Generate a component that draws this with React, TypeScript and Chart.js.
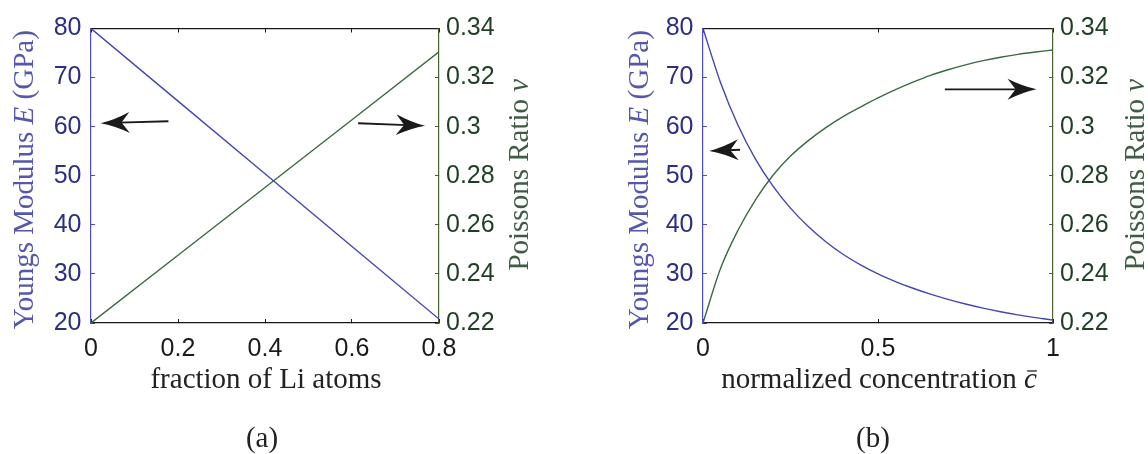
import React, { useEffect, useRef } from "react";
import { Chart, registerables } from "chart.js";

Chart.register(...registerables);

// ---- Panel (a): properties vs. fraction of Li atoms ----
const liFraction = [0, 0.2, 0.4, 0.6, 0.8];
const modulusA = [80, 65.2, 50.4, 35.6, 20.8];
const poissonA = [0.22, 0.2476, 0.2752, 0.3028, 0.3305];

// ---- Panel (b): properties vs. normalized concentration ----
const concentration = [
  0, 0.05, 0.1, 0.15, 0.2, 0.25, 0.3, 0.35, 0.4, 0.45, 0.5,
  0.55, 0.6, 0.65, 0.7, 0.75, 0.8, 0.85, 0.9, 0.95, 1,
];
const modulusB = [
  80, 69, 60.3, 53.4, 47.9, 43.4, 39.7, 36.6, 34.0, 31.85, 30.0,
  28.45, 27.08, 25.87, 24.8, 23.86, 23.03, 22.3, 21.66, 21.09, 20.6,
];
const poissonB = [
  0.22, 0.2422, 0.2578, 0.2702, 0.2802, 0.288, 0.2942, 0.2995, 0.3041, 0.308, 0.3117,
  0.3151, 0.31815, 0.3209, 0.3232, 0.3252, 0.3269, 0.3283, 0.32945, 0.3304, 0.33125,
];

// ---- Tick values ----
const xTicksA = [0, 0.2, 0.4, 0.6, 0.8];
const xTicksB = [0, 0.5, 1];
const modulusTicks = [20, 30, 40, 50, 60, 70, 80];
const poissonTicks = [0.22, 0.24, 0.26, 0.28, 0.3, 0.32, 0.34];

// ---- Arrows pointing to the axis each curve belongs to: [x, E] tail -> tip ----
const arrowsA = [
  { from: [0.178, 61.1], to: [0.022, 60.7] },
  { from: [0.614, 60.7], to: [0.768, 60.2] },
];
const arrowsB = [
  { from: [0.106, 55.3], to: [0.018, 55.05] },
  { from: [0.691, 67.6], to: [0.953, 67.6] },
];

const W = 574;
const H = 454;
const PLOT_TOP = 23;
const PLOT_BOTTOM = 323;
const TICK_IN = -4;

const SANS = '"Liberation Sans", Arial, Helvetica, sans-serif';
const SERIF = '"Liberation Serif", "Times New Roman", serif';
const TITLE_SIZE = 29;

const COLOR_E = "#4446b4";
const COLOR_NU = "#3a6a42";
const E_TICK_TEXT = "#2b2e84";
const NU_TICK_TEXT = "#1f3f25";
const E_TITLE = "#5457ad";
const NU_TITLE = "#3f5c44";
const E_BORDER = "#4e4ec4";
const NU_BORDER = "#4d5e2f";
const INK = "#1a1a1a";

type Run = { text: string; italic?: boolean; bar?: boolean };

type PanelSpec = {
  xs: number[];
  modulus: number[];
  poisson: number[];
  xTicks: number[];
  xMax: number;
  arrows: { from: number[]; to: number[] }[];
  xTitle: Run[];
  caption: string;
  plotLeft: number;
  plotRight: number;
  leftGap: number;
  rightGap: number;
  captionShift: number;
  smooth: boolean;
};

function drawRuns(
  ctx: CanvasRenderingContext2D,
  runs: Run[],
  x: number,
  y: number,
  angle: number,
  size: number,
  color: string
) {
  ctx.save();
  ctx.translate(x, y);
  ctx.rotate(angle);
  ctx.fillStyle = color;
  ctx.strokeStyle = color;
  ctx.textBaseline = "alphabetic";
  ctx.textAlign = "left";
  const fontOf = (r: Run) => `${r.italic ? "italic " : ""}${size}px ${SERIF}`;
  let total = 0;
  const widths = runs.map((r) => {
    ctx.font = fontOf(r);
    const w = ctx.measureText(r.text).width;
    total += w;
    return w;
  });
  let cx = -total / 2;
  runs.forEach((r, i) => {
    ctx.font = fontOf(r);
    ctx.fillText(r.text, cx, 0);
    if (r.bar) {
      const w = widths[i];
      ctx.lineWidth = 1.3;
      ctx.beginPath();
      ctx.moveTo(cx + w * 0.25, -size * 0.57);
      ctx.lineTo(cx + w * 1.0, -size * 0.57);
      ctx.stroke();
    }
    cx += widths[i];
  });
  ctx.restore();
}

function drawArrow(ctx: CanvasRenderingContext2D, x0: number, y0: number, x1: number, y1: number) {
  const ang = Math.atan2(y1 - y0, x1 - x0);
  const len = Math.hypot(x1 - x0, y1 - y0);
  ctx.save();
  ctx.translate(x1, y1);
  ctx.rotate(ang);
  ctx.strokeStyle = INK;
  ctx.fillStyle = INK;
  ctx.lineWidth = 1.8;
  ctx.beginPath();
  ctx.moveTo(-len, 0);
  ctx.lineTo(-18, 0);
  ctx.stroke();
  ctx.beginPath();
  ctx.moveTo(0, 0);
  ctx.quadraticCurveTo(-14, -3, -29, -10.5);
  ctx.lineTo(-21, 0);
  ctx.lineTo(-29, 10.5);
  ctx.quadraticCurveTo(-14, 3, 0, 0);
  ctx.closePath();
  ctx.fill();
  ctx.restore();
}

function fixedTicks(values: number[]) {
  return (scale: any) => {
    scale.ticks = values.map((v) => ({ value: v }));
  };
}

function buildConfig(spec: PanelSpec): any {
  const tickFont = { family: SANS, size: 25, lineHeight: 1.2 };
  const fmt = (v: any) => String(v);

  const decor = {
    id: "panelDecor",
    afterDraw(chart: any) {
      const { ctx, chartArea } = chart;
      const { left, right, top, bottom } = chartArea;
      const sx = chart.scales.x;
      const sy = chart.scales.y;
      spec.arrows.forEach((a) => {
        drawArrow(
          ctx,
          sx.getPixelForValue(a.from[0]),
          sy.getPixelForValue(a.from[1]),
          sx.getPixelForValue(a.to[0]),
          sy.getPixelForValue(a.to[1])
        );
      });
      const midY = (top + bottom) / 2;
      const midX = (left + right) / 2;
      drawRuns(
        ctx,
        [{ text: "Youngs Modulus " }, { text: "E", italic: true }, { text: " (GPa)" }],
        left - spec.leftGap,
        midY + 4,
        -Math.PI / 2,
        TITLE_SIZE,
        E_TITLE
      );
      drawRuns(
        ctx,
        [{ text: "Poissons Ratio " }, { text: "ν", italic: true }],
        right + spec.rightGap,
        midY - 1,
        -Math.PI / 2,
        TITLE_SIZE,
        NU_TITLE
      );
      drawRuns(ctx, spec.xTitle, midX + 1, bottom + 64.5, 0, TITLE_SIZE, "#222222");
      drawRuns(ctx, [{ text: spec.caption }], midX + spec.captionShift, bottom + 124, 0, TITLE_SIZE, "#222222");
    },
  };

  return {
    type: "line",
    data: {
      datasets: [
        {
          label: "E",
          data: spec.xs.map((x, i) => ({ x, y: spec.modulus[i] })),
          borderColor: COLOR_E,
          borderWidth: 1.4,
          pointRadius: 0,
          yAxisID: "y",
          xAxisID: "x",
          tension: 0,
          cubicInterpolationMode: spec.smooth ? "monotone" : "default",
        },
        {
          label: "nu",
          data: spec.xs.map((x, i) => ({ x, y: spec.poisson[i] })),
          borderColor: COLOR_NU,
          borderWidth: 1.4,
          pointRadius: 0,
          yAxisID: "y1",
          xAxisID: "x",
          tension: 0,
          cubicInterpolationMode: spec.smooth ? "monotone" : "default",
        },
      ],
    },
    options: {
      animation: false,
      responsive: false,
      events: [],
      layout: { padding: 0 },
      plugins: { legend: { display: false }, tooltip: { enabled: false }, title: { display: false } },
      scales: {
        x: {
          type: "linear",
          position: "bottom",
          min: 0,
          max: spec.xMax,
          afterBuildTicks: fixedTicks(spec.xTicks),
          afterFit: (s: any) => {
            s.height = H - PLOT_BOTTOM;
          },
          ticks: { color: INK, font: tickFont, padding: 15.5, autoSkip: false, maxRotation: 0, callback: fmt },
          grid: { drawOnChartArea: false, drawTicks: true, tickLength: TICK_IN, color: INK, tickWidth: 1 },
          border: { display: true, color: INK, width: 1.2 },
        },
        x2: {
          type: "linear",
          position: "top",
          min: 0,
          max: spec.xMax,
          afterBuildTicks: fixedTicks(spec.xTicks),
          afterFit: (s: any) => {
            s.height = PLOT_TOP;
          },
          ticks: { display: false },
          grid: { drawOnChartArea: false, drawTicks: true, tickLength: TICK_IN, color: INK, tickWidth: 1 },
          border: { display: true, color: INK, width: 1.2 },
        },
        y: {
          type: "linear",
          position: "left",
          min: 20,
          max: 80,
          afterBuildTicks: fixedTicks(modulusTicks),
          afterFit: (s: any) => {
            s.width = spec.plotLeft;
          },
          ticks: { color: E_TICK_TEXT, font: tickFont, padding: 13.5, autoSkip: false, callback: fmt },
          grid: { drawOnChartArea: false, drawTicks: true, tickLength: TICK_IN, color: E_BORDER, tickWidth: 1 },
          border: { display: true, color: E_BORDER, width: 1.2 },
        },
        y1: {
          type: "linear",
          position: "right",
          min: 0.22,
          max: 0.34,
          afterBuildTicks: fixedTicks(poissonTicks),
          afterFit: (s: any) => {
            s.width = W - spec.plotRight;
          },
          ticks: { color: NU_TICK_TEXT, font: tickFont, padding: 11, autoSkip: false, callback: fmt },
          grid: { drawOnChartArea: false, drawTicks: true, tickLength: TICK_IN, color: NU_BORDER, tickWidth: 1 },
          border: { display: true, color: NU_BORDER, width: 1.2 },
        },
      },
    },
    plugins: [decor],
  };
}

const panelA: PanelSpec = {
  xs: liFraction,
  modulus: modulusA,
  poisson: poissonA,
  xTicks: xTicksA,
  xMax: 0.8,
  arrows: arrowsA,
  xTitle: [{ text: "fraction of Li atoms" }],
  caption: "(a)",
  plotLeft: 91,
  plotRight: 439,
  leftGap: 58,
  rightGap: 89,
  captionShift: -3,
  smooth: false,
};

const panelB: PanelSpec = {
  xs: concentration,
  modulus: modulusB,
  poisson: poissonB,
  xTicks: xTicksB,
  xMax: 1,
  arrows: arrowsB,
  xTitle: [{ text: "normalized concentration " }, { text: "c", italic: true, bar: true }],
  caption: "(b)",
  plotLeft: 129,
  plotRight: 479,
  leftGap: 55,
  rightGap: 91,
  captionShift: -5,
  smooth: true,
};

function Panel({ spec }: { spec: PanelSpec }) {
  const ref = useRef<HTMLCanvasElement>(null);
  useEffect(() => {
    if (!ref.current) return;
    const chart = new Chart(ref.current, buildConfig(spec));
    return () => chart.destroy();
  }, [spec]);
  return <canvas ref={ref} width={W} height={H} style={{ display: "block", width: W, height: H }} />;
}

export default function App() {
  return (
    <div
      style={{
        position: "fixed",
        left: 0,
        top: 0,
        width: 1148,
        height: 454,
        background: "#ffffff",
        display: "flex",
      }}
    >
      <Panel spec={panelA} />
      <Panel spec={panelB} />
    </div>
  );
}
